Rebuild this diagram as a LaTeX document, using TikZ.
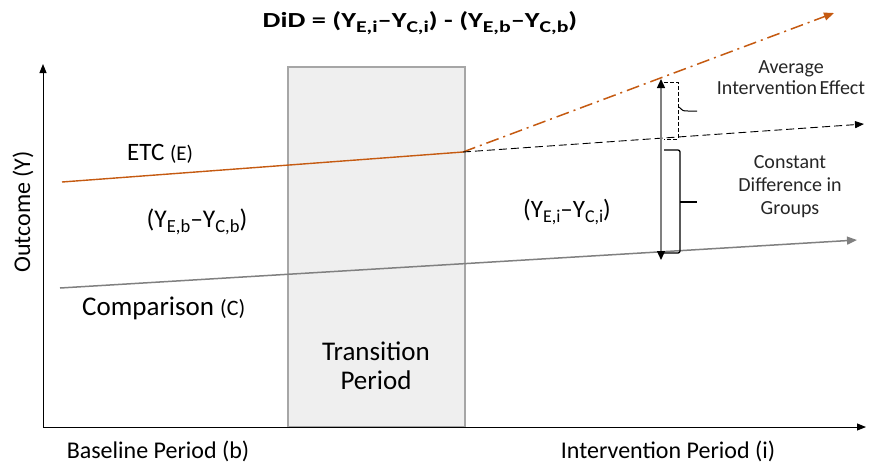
\documentclass[tikz,border=0pt]{standalone}
\usepackage{fontspec}
\usepackage{graphicx}
\setmainfont{Carlito}
\usetikzlibrary{arrows.meta}
\definecolor{etcor}{HTML}{C55A11}
\definecolor{cmpgray}{HTML}{808080}
\definecolor{boxfill}{HTML}{EFEFEF}
\definecolor{boxline}{HTML}{A6A6A6}
\newcommand{\fs}[1]{\fontsize{#1}{#1}\selectfont}
\newcommand{\sbs}[2]{\raisebox{-0.45ex}{\fs{#1}#2}}
\begin{document}
\begin{tikzpicture}[x=1pt,y=-1pt,
  tip/.style={-{Triangle[length=9pt,width=7pt]}},
  lbl/.style={inner sep=0pt},
  ]
\useasboundingbox (0,0) rectangle (872,464);
% transition box
\node[draw=boxline,fill=boxfill,line width=1.2pt,minimum width=177pt,minimum height=360pt,inner sep=0pt] (box) at (376.5,247) {};
\node[lbl,align=center,font=\fs{27}] (trans) at (376,366) {Transition\\[2pt]Period};
% axes
\coordinate (o) at (43,427);
\coordinate (ytop) at (43,64);
\coordinate (xend) at (866,427);
\draw[line width=1pt,tip] (o) -- (ytop);
\draw[line width=1pt,tip] (o) -- (xend);
% lines
\coordinate (e0) at (62,182);
\coordinate (e1) at (463,152);
\coordinate (eend) at (834,13);
\coordinate (cfend) at (864,124);
\coordinate (c0) at (60,288);
\coordinate (c1) at (857,240);
\draw[etcor,line width=1.4pt] (e0) -- (e1);
\draw[etcor,line width=1.5pt,dash pattern=on 13pt off 5pt on 2pt off 5pt,-{Triangle[length=10pt,width=8pt]}] (e1) -- (eend);
\draw[black,line width=0.9pt,dash pattern=on 8pt off 4pt,tip] (e1) -- (cfend);
\draw[cmpgray,line width=1.5pt,-{Triangle[length=10pt,width=8pt]}] (c0) -- (c1);
% double arrow
\coordinate (da0) at (661,79);
\coordinate (da1) at (661,260);
\draw[cmpgray,line width=1.3pt,{Triangle[length=9pt,width=8pt,black]}-{Triangle[length=9pt,width=8pt,black]}] (da0) -- (da1);
% dashed bracket
\draw[black,line width=1pt,dash pattern=on 4pt off 2pt] (664,82) -- (678,82) -- (678,139) -- (664,139);
\draw[black,line width=1pt] (679,107) .. controls (683,111) .. (688,111) -- (697,111);
% solid bracket
\draw[black,line width=1.3pt,rounded corners=2pt] (664,150) -- (680,150) -- (680,253) -- (664,253);
\draw[black,line width=1.3pt] (680,202) -- (697,202);
% texts
\node[lbl,font=\bfseries] (title) at (420,23) {\scalebox{1.32}[1]{\fs{21.5}DiD = (Y\sbs{16.5}{E,i}–Y\sbs{16.5}{C,i}) - (Y\sbs{16.5}{E,b}–Y\sbs{16.5}{C,b})}};
\node[lbl,anchor=base west] (etc) at (127,160) {\fs{25}ETC \fs{21}(E)};
\node[lbl] (yb) at (197,222) {\fs{25.5}(Y\sbs{18.5}{E,b}–Y\sbs{18.5}{C,b})};
\node[lbl,anchor=base west] (cmp) at (82,315) {\fs{27}Comparison \fs{22}(C)};
\node[lbl] (yi) at (567,212) {\fs{25}(Y\sbs{18}{E,i}–Y\sbs{18}{C,i})};
\node[lbl,align=center,font=\fs{20},text=black!85] (aie) at (791,78) {Average\\[1pt]Intervention\hspace{-2pt} Effect};
\node[lbl,align=center,font=\fs{20},text=black!85] (cdg) at (790,187) {Constant\\[3pt]Difference in\\[3pt]Groups};
\node[lbl,rotate=90] (outc) at (23,212) {\fs{24}Outcome (Y)};
\node[lbl,anchor=base] (base) at (158,458) {\fs{24}Baseline Period (b)};
\node[lbl,anchor=base] (interv) at (668,458) {\fs{24}Intervention Period (i)};
\end{tikzpicture}
\end{document}
